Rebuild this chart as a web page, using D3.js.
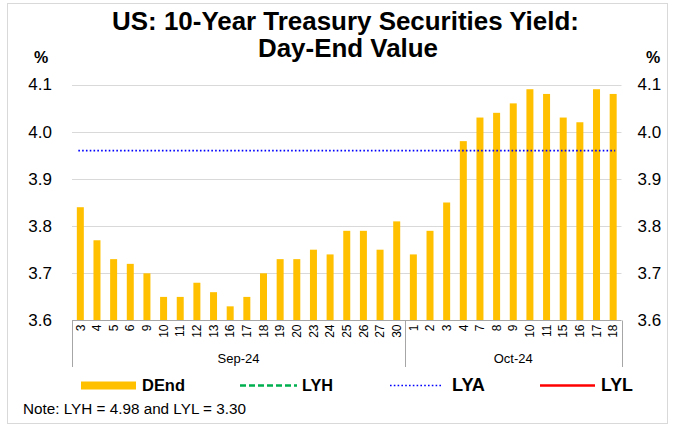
<!DOCTYPE html>
<html>
<head>
<meta charset="utf-8">
<script src="https://cdn.jsdelivr.net/npm/d3@7"></script>
<style>
  html, body { margin: 0; padding: 0; background: #fff; }
  svg { display: block; font-family: "Liberation Sans", Arial, sans-serif; }
</style>
</head>
<body>
<svg id="chart" width="674" height="427"></svg>
<script>
// Trading days, grouped by month
const sepDays = ["3","4","5","6","9","10","11","12","13","16","17","18","19","20","23","24","25","26","27","30"];
const octDays = ["1","2","3","4","7","8","9","10","11","15","16","17","18"];
const months = ["Sep-24", "Oct-24"];

// Day-end yield (%)
const sepValues = [3.84,3.77,3.73,3.72,3.70,3.65,3.65,3.68,3.66,3.63,3.65,3.70,3.73,3.73,3.75,3.74,3.79,3.79,3.75,3.81];
const octValues = [3.74,3.79,3.85,3.98,4.03,4.04,4.06,4.09,4.08,4.03,4.02,4.09,4.08];

// Last-year reference levels
const lyaValue = 3.96;
const lyhValue = 4.98;
const lylValue = 3.30;

const yTicks = [3.6, 3.7, 3.8, 3.9, 4.0, 4.1];

const data = [
  ...sepDays.map((d, i) => ({ key: "Sep-24|" + d, day: d, month: months[0], v: sepValues[i] })),
  ...octDays.map((d, i) => ({ key: "Oct-24|" + d, day: d, month: months[1], v: octValues[i] }))
];

const svg = d3.select("#chart");
const plot = { left: 72, right: 621.5, top: 84.5, bottom: 320.5 };

// Scale a text element's font so that it spans the given width
function fitWidth(sel, width) {
  const node = sel.node();
  const fs = parseFloat(sel.attr("font-size"));
  const w = node.getComputedTextLength();
  if (w > 0) sel.attr("font-size", (fs * width / w).toFixed(2));
  return sel;
}

// Outer frame
svg.append("rect")
  .attr("x", 7.5).attr("y", 3.5).attr("width", 660).attr("height", 420)
  .attr("fill", "#fff").attr("stroke", "#d9d9d9").attr("stroke-width", 1);

const x = d3.scaleBand()
  .domain(data.map(d => d.key))
  .range([plot.left, plot.right])
  .paddingInner(0.58).paddingOuter(0.29);

const y = d3.scaleLinear().domain([3.6, 4.1]).range([plot.bottom, plot.top]);

// Gridlines
svg.append("g").selectAll("line").data(yTicks.slice(1)).join("line")
  .attr("x1", plot.left).attr("x2", plot.right)
  .attr("y1", d => Math.round(y(d)) + 0.5).attr("y2", d => Math.round(y(d)) + 0.5)
  .attr("stroke", "#d9d9d9").attr("stroke-width", 1);

// Bars
svg.append("g").selectAll("rect").data(data).join("rect")
  .attr("x", d => x(d.key))
  .attr("width", x.bandwidth())
  .attr("y", d => y(d.v))
  .attr("height", d => y(3.6) - y(d.v))
  .attr("fill", "#FFC000");

// Last-year average line
const first = data[0].key, last = data[data.length - 1].key;
svg.append("line")
  .attr("x1", x(first) + x.bandwidth() / 2 - 2)
  .attr("x2", x(last) + x.bandwidth() / 2 + 2)
  .attr("y1", y(lyaValue)).attr("y2", y(lyaValue))
  .attr("stroke", "#0000FF").attr("stroke-width", 1.6)
  .attr("stroke-dasharray", "1.6,2.2");

// Left and right value axes
const yAxisL = d3.axisLeft(y).tickValues(yTicks).tickFormat(d3.format(".1f")).tickSize(0).tickPadding(0);
const gL = svg.append("g").attr("transform", `translate(${plot.left - 20},0)`).call(yAxisL);
gL.select(".domain").remove();
gL.selectAll("text").attr("font-size", 17).attr("fill", "#000").attr("font-family", "Liberation Sans, Arial, sans-serif");

const yAxisR = d3.axisRight(y).tickValues(yTicks).tickFormat(d3.format(".1f")).tickSize(0).tickPadding(0);
const gR = svg.append("g").attr("transform", `translate(${plot.right + 16},0)`).call(yAxisR);
gR.select(".domain").remove();
gR.selectAll("text").attr("font-size", 17).attr("fill", "#000").attr("font-family", "Liberation Sans, Arial, sans-serif");

// Unit labels
svg.append("text").attr("x", 41).attr("y", 63).attr("text-anchor", "middle")
  .attr("font-size", 16).attr("font-weight", "bold").text("%");
svg.append("text").attr("x", 653).attr("y", 63).attr("text-anchor", "middle")
  .attr("font-size", 16).attr("font-weight", "bold").text("%");

// Category axis: baseline, group separators, day labels, month labels
const axisColor = "#a6a6a6";
svg.append("line").attr("x1", plot.left).attr("x2", plot.right)
  .attr("y1", plot.bottom).attr("y2", plot.bottom).attr("stroke", axisColor);

const step = x.step();
const boundaries = [plot.left, x(data[sepDays.length - 1].key) + x.bandwidth() + (step - x.bandwidth()) / 2, plot.right];
svg.append("g").selectAll("line").data(boundaries).join("line")
  .attr("x1", d => Math.round(d) + 0.5).attr("x2", d => Math.round(d) + 0.5)
  .attr("y1", plot.bottom).attr("y2", 367)
  .attr("stroke", axisColor);

svg.append("g").selectAll("text").data(data).join("text")
  .attr("transform", d => `translate(${x(d.key) + x.bandwidth() / 2 + 4.2},${plot.bottom + 4}) rotate(-90)`)
  .attr("text-anchor", "end")
  .attr("font-size", 12).attr("fill", "#000")
  .text(d => d.day);

const monthCenters = [
  (boundaries[0] + boundaries[1]) / 2,
  (boundaries[1] + boundaries[2]) / 2
];
svg.append("g").selectAll("text").data(months).join("text")
  .attr("x", (d, i) => monthCenters[i]).attr("y", 363)
  .attr("text-anchor", "middle").attr("font-size", 13).attr("fill", "#000")
  .text(d => d);

// Title
const t1 = svg.append("text").attr("x", 345.5).attr("y", 30).attr("text-anchor", "middle")
  .attr("font-size", 25).attr("font-weight", "bold").attr("fill", "#000")
  .text("US: 10-Year Treasury Securities Yield:");
fitWidth(t1, 467);
svg.append("text").attr("x", 348).attr("y", 57).attr("text-anchor", "middle")
  .attr("font-size", t1.attr("font-size")).attr("font-weight", "bold").attr("fill", "#000")
  .text("Day-End Value");

// Legend
const legend = svg.append("g").attr("font-weight", "bold");
legend.append("rect").attr("x", 81).attr("y", 381.5).attr("width", 55).attr("height", 8).attr("fill", "#FFC000");
fitWidth(legend.append("text").attr("x", 142).attr("y", 391).attr("font-size", 16).text("DEnd"), 43);

legend.append("line").attr("x1", 240).attr("x2", 297).attr("y1", 385.5).attr("y2", 385.5)
  .attr("stroke", "#00B050").attr("stroke-width", 2.5).attr("stroke-dasharray", "6,3");
fitWidth(legend.append("text").attr("x", 302).attr("y", 391).attr("font-size", 16).text("LYH"), 31);

legend.append("line").attr("x1", 390).attr("x2", 442).attr("y1", 385.5).attr("y2", 385.5)
  .attr("stroke", "#0000FF").attr("stroke-width", 1.6).attr("stroke-dasharray", "1.6,2.2");
fitWidth(legend.append("text").attr("x", 452).attr("y", 391).attr("font-size", 16).text("LYA"), 33);

legend.append("line").attr("x1", 540).attr("x2", 595).attr("y1", 385.5).attr("y2", 385.5)
  .attr("stroke", "#FF0000").attr("stroke-width", 2.5);
fitWidth(legend.append("text").attr("x", 601).attr("y", 391).attr("font-size", 16).text("LYL"), 32);

// Footnote
const note = svg.append("text").attr("x", 23).attr("y", 414).attr("font-size", 14).attr("fill", "#000")
  .text(`Note: LYH = ${lyhValue.toFixed(2)} and LYL = ${lylValue.toFixed(2)}`);
fitWidth(note, 223);
</script>
</body>
</html>
